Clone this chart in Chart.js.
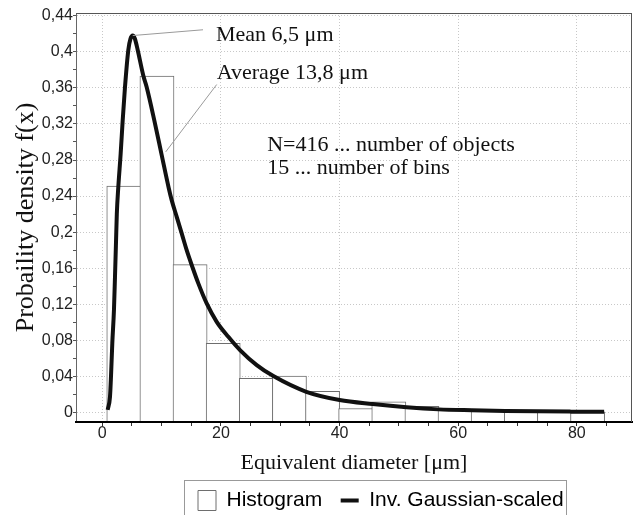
<!DOCTYPE html>
<html>
<head>
<meta charset="utf-8">
<title>Equivalent diameter histogram</title>
<script src="https://cdn.jsdelivr.net/npm/chart.js@4.4.1/dist/chart.umd.min.js"></script>
<style>
  html, body { margin: 0; padding: 0; background: #fff; }
</style>
</head>
<body>
<canvas id="histChart" width="633" height="515"></canvas>
<script>
// histogram: 15 bins over equivalent diameter [um]
const binEdges = [0.84, 6.42, 12.01, 17.59, 23.18, 28.76, 34.34, 39.93, 45.51, 51.10, 56.68, 62.26, 67.85, 73.43, 79.02, 84.60];
const binDensity = [0.251, 0.373, 0.164, 0.0767, 0.0379, 0.0404, 0.0235, 0.0045, 0.0118, 0.0068, 0.003, 0.0018, 0.0013, 0.001, 0.0008];

// inverse gaussian (scaled) curve
const curveX = [0.91, 1.3, 1.47, 1.69, 1.97, 2.14, 2.31, 2.45, 2.7, 3.1, 3.44, 3.83, 4.39, 4.76, 5.13, 5.5, 5.97, 6.9, 7.48, 8.77, 10.0, 11.2, 11.7, 12.55, 13.39, 14.23, 15.18, 16.19, 17.6, 19.29, 21.25, 23.22, 26.04, 28.84, 34.4, 40.0, 45.6, 51.3, 56.7, 62.3, 67.9, 73.4, 79.0, 84.6];
const curveY = [0.003, 0.0175, 0.04, 0.077, 0.114, 0.15, 0.188, 0.22, 0.25, 0.287, 0.324, 0.361, 0.402, 0.4145, 0.418, 0.4145, 0.402, 0.374, 0.361, 0.324, 0.286, 0.249, 0.2355, 0.217, 0.1986, 0.18, 0.1616, 0.1432, 0.121, 0.1006, 0.084, 0.0693, 0.0526, 0.0404, 0.023, 0.0139, 0.0094, 0.0058, 0.0035, 0.0025, 0.0018, 0.0013, 0.001, 0.0008];

// tick labels
const xTicks = [0, 20, 40, 60, 80];
const yTicks = [0, 0.04, 0.08, 0.12, 0.16, 0.2, 0.24, 0.28, 0.32, 0.36, 0.4, 0.44];

const X_MIN = -4.43, X_MAX = 89.3;
const Y_MIN = -0.0105, Y_MAX = 0.443;

// text notes, anchored in data units
const notes = [
  { text: 'Mean 6,5 μm', at: [19.17, 0.4116], leader: [[5.13, 0.418], [16.98, 0.4244]] },
  { text: 'Average 13,8 μm', at: [19.29, 0.3695], leader: [[19.29, 0.3637], [10.69, 0.289]] },
  { text: 'N=416 ... number of objects', at: [27.8, 0.2903] },
  { text: '15 ... number of bins', at: [27.8, 0.2643] },
];

const isTick = (list, v) => list.some(t => Math.abs(t - v) < 1e-9);

document.addEventListener('DOMContentLoaded', () => {
    const canvas = document.getElementById('histChart');
    const ctx = canvas.getContext('2d');
    Chart.defaults.font.family = '"Liberation Sans", Arial, sans-serif';

    const binCenters = binDensity.map((_, i) => (binEdges[i] + binEdges[i + 1]) / 2);

    new Chart(ctx, {
        type: 'bar',
        data: {
            datasets: [
                {
                    type: 'bar',
                    label: 'Histogram',
                    data: binCenters.map((x, i) => ({ x: x, y: binDensity[i] })),
                    backgroundColor: '#ffffff',
                    borderColor: '#6e6e6e',
                    borderWidth: 1,
                    borderSkipped: 'start',
                    barThickness: 'flex',
                    // a hair wider than the bin so neighbouring edges share one line
                    barPercentage: 1.03,
                    categoryPercentage: 1,
                    base: Y_MIN,
                    order: 1,
                },
                {
                    type: 'line',
                    label: 'Inv. Gaussian-scaled',
                    data: curveX.map((x, i) => ({ x: x, y: curveY[i] })),
                    borderColor: '#111111',
                    backgroundColor: '#111111',
                    borderWidth: 4,
                    pointRadius: 0,
                    fill: false,
                    cubicInterpolationMode: 'monotone',
                    order: 0,
                },
            ]
        },
        options: {
            responsive: false,
            animation: false,
            layout: {
                padding: { top: 13, right: 1, bottom: 0, left: 0 }
            },
            scales: {
                x: {
                    type: 'linear',
                    min: X_MIN,
                    max: X_MAX,
                    offset: false,
                    afterFit: (scale) => { scale.height = 43.5; },
                    ticks: {
                        stepSize: 5,
                        includeBounds: false,
                        autoSkip: false,
                        maxRotation: 0,
                        padding: 0,
                        color: '#222',
                        font: { size: 16, lineHeight: 1 },
                        callback: (v) => isTick(xTicks, v) ? String(v) : '',
                    },
                    grid: {
                        offset: false,
                        lineWidth: 1,
                        color: (c) => c.tick && isTick(xTicks, c.tick.value) ? '#c8c8c8' : 'rgba(0,0,0,0)',
                        tickColor: '#333',
                        tickLength: 4,
                    },
                    border: { color: '#000', width: 2, dash: [1, 2], z: 1 },
                    title: {
                        display: true,
                        text: 'Equivalent diameter [μm]',
                        color: '#111',
                        font: { family: '"Liberation Serif", "Times New Roman", serif', size: 22, lineHeight: 1 },
                        padding: { top: 0, bottom: -9 },
                    },
                },
                y: {
                    type: 'linear',
                    min: Y_MIN,
                    max: Y_MAX,
                    afterFit: (scale) => { scale.width = 76; },
                    ticks: {
                        stepSize: 0.02,
                        includeBounds: false,
                        autoSkip: false,
                        padding: 0,
                        color: '#222',
                        font: { size: 16, lineHeight: 1 },
                        callback: (v) => {
                            const t = yTicks.find(t => Math.abs(t - v) < 1e-9);
                            return t === undefined ? '' : String(t).replace('.', ',');
                        },
                    },
                    grid: {
                        lineWidth: 1,
                        color: (c) => c.tick && isTick(yTicks, c.tick.value) ? '#c8c8c8' : 'rgba(0,0,0,0)',
                        tickColor: '#555',
                        tickLength: 3,
                    },
                    border: { color: '#666', width: 1, dash: [1, 2] },
                    title: {
                        display: true,
                        text: 'Probaility density f(x)',
                        color: '#111',
                        font: { family: '"Liberation Serif", "Times New Roman", serif', size: 26, lineHeight: 1 },
                        padding: { top: 13, bottom: 0 },
                    },
                },
            },
            plugins: {
                legend: {
                    position: 'bottom',
                    align: 'start',
                    labels: {
                        usePointStyle: true,
                        pointStyleWidth: 18,
                        boxHeight: 20,
                        padding: 18.5,
                        color: '#000',
                        font: { size: 21 },
                        sort: (a, b) => a.datasetIndex - b.datasetIndex,
                        generateLabels: (chart) => {
                            const items = Chart.defaults.plugins.legend.labels.generateLabels(chart);
                            items.forEach(item => {
                                const isLine = chart.data.datasets[item.datasetIndex].type === 'line';
                                item.pointStyle = isLine ? 'line' : 'rect';
                                item.lineWidth = isLine ? 4 : 1;
                            });
                            return items;
                        },
                    },
                },
                tooltip: { enabled: false },
            },
        },
        plugins: [
            {
                id: 'legendPlace',
                afterLayout: (chart) => {
                    const legend = chart.legend;
                    const shift = 198 - (legend.left + legend.options.labels.padding);
                    legend.left += shift;
                    legend.right += shift;
                    legend.top = 471.5;
                    legend.bottom = legend.top + legend.height;
                }
            },
            {
                id: 'notes',
                afterDatasetsDraw: (chart) => {
                    const { ctx, scales: { x, y } } = chart;
                    ctx.save();
                    notes.forEach(n => {
                        if (n.leader) {
                            ctx.beginPath();
                            ctx.moveTo(x.getPixelForValue(n.leader[0][0]), y.getPixelForValue(n.leader[0][1]));
                            ctx.lineTo(x.getPixelForValue(n.leader[1][0]), y.getPixelForValue(n.leader[1][1]));
                            ctx.strokeStyle = '#9a9a9a';
                            ctx.lineWidth = 1;
                            ctx.stroke();
                        }
                        ctx.font = '22px "Liberation Serif", "Times New Roman", serif';
                        ctx.fillStyle = '#111';
                        ctx.textAlign = 'left';
                        ctx.textBaseline = 'alphabetic';
                        ctx.fillText(n.text, x.getPixelForValue(n.at[0]), y.getPixelForValue(n.at[1]));
                    });
                    ctx.restore();
                }
            },
            {
                id: 'frame',
                afterDraw: (chart) => {
                    const { ctx, chartArea } = chart;
                    ctx.save();
                    ctx.strokeStyle = '#555';
                    ctx.lineWidth = 1;
                    ctx.beginPath();
                    ctx.moveTo(chartArea.left, chartArea.top + 0.5);
                    ctx.lineTo(chartArea.right, chartArea.top + 0.5);
                    ctx.moveTo(chartArea.right - 0.5, chartArea.top);
                    ctx.lineTo(chartArea.right - 0.5, chartArea.bottom);
                    ctx.stroke();

                    // box round the legend
                    const boxes = chart.legend.legendHitBoxes;
                    if (boxes && boxes.length) {
                        const first = boxes[0];
                        const last = boxes[boxes.length - 1];
                        const left = Math.round(first.left - 14) + 0.5;
                        const top = Math.round(first.top - 10) + 0.5;
                        const right = Math.round(last.left + last.width + 2) + 0.5;
                        ctx.strokeStyle = '#999';
                        ctx.strokeRect(left, top, right - left, 60);
                    }
                    ctx.restore();
                }
            }
        ],
    });
});
</script>
</body>
</html>
